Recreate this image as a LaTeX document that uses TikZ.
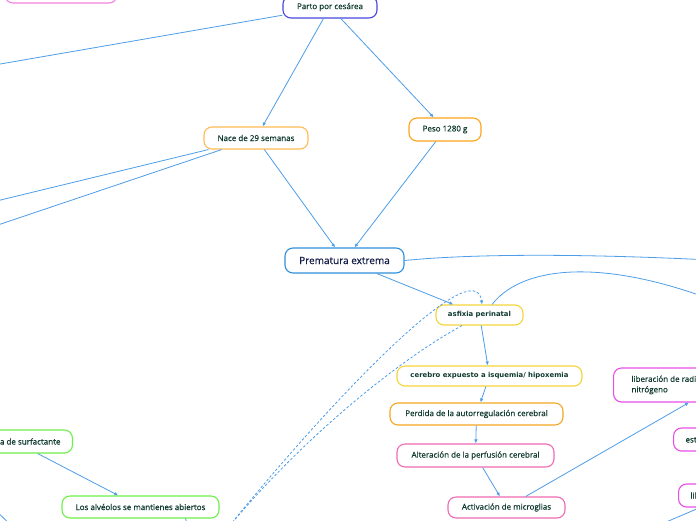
\documentclass[tikz,border=0pt]{standalone}
\usepackage{fontspec}
\setmainfont{Open Sans}
\newfontfamily\boxfont[FakeBold=0.6]{Open Sans}
\newfontfamily\dejavufont{DejaVu Sans}
\usetikzlibrary{arrows.meta}

\definecolor{textgreen}{HTML}{0F3A2F}
\definecolor{premtext}{HTML}{141E48}
\definecolor{linkblue}{HTML}{4D9DE8}
\definecolor{partoblue}{HTML}{4848E0}
\definecolor{toppink}{HTML}{F582DD}
\definecolor{naceorange}{HTML}{FFBB55}
\definecolor{pesoorange}{HTML}{FFA31A}
\definecolor{premblue}{HTML}{2F8FDC}
\definecolor{yellowline}{HTML}{F5D43A}
\definecolor{perdidaorange}{HTML}{F5A623}
\definecolor{pinkline}{HTML}{F06BB4}
\definecolor{magentaline}{HTML}{E84DE8}
\definecolor{greenline}{HTML}{6EF04A}

\begin{document}
\begin{tikzpicture}[
x=1pt, y=-1pt,
box/.style={draw, rounded corners=8pt, line width=1.1pt, fill=white, text=textgreen, font=\boxfont\fontsize{8}{10.5}\selectfont, inner xsep=10pt, inner ysep=0pt, minimum height=22pt},
yellowbox/.style={box, draw=yellowline, font=\dejavufont\bfseries\fontsize{6.9}{8}\selectfont, minimum height=20pt},
link/.style={line width=0.8pt, linkblue},
arrow/.style={link, -{Latex[length=4pt, width=3.5pt]}},
dashlink/.style={link, dash pattern=on 2.5pt off 2pt}
]
\useasboundingbox (0,0) rectangle (696,520);
\clip (0,0) rectangle (696,520);
\fill[white] (0,0) rectangle (696,520);

% nodes
\node[box, draw=toppink, minimum width=112pt, minimum height=24pt] (topnode) at (61,-9) {};
\node[box, draw=partoblue, minimum width=94pt] (parto) at (330,7) {Parto por cesárea};
\node[box, draw=naceorange, minimum width=104pt] (nace) at (256,138) {Nace de 29 semanas};
\node[box, draw=pesoorange, minimum width=72pt, minimum height=23pt] (peso) at (445,129.5) {Peso 1280 g};
\node[box, draw=premblue, text=premtext, font=\boxfont\fontsize{10}{12}\selectfont, minimum width=119pt, minimum height=25pt] (prem) at (344.5,260.5) {Prematura extrema};
\node[yellowbox, minimum width=87pt] (asfixia) at (479.5,315) {asfixia perinatal};
\node[yellowbox, minimum width=185pt] (cerebro) at (489.5,376) {cerebro expuesto a isquemia/ hipoxemia};
\node[box, draw=perdidaorange, minimum width=173pt] (perdida) at (476.5,414) {Perdida de la autorregulación cerebral};
\node[box, draw=pinkline, minimum width=157pt, minimum height=23pt] (alteracion) at (475.5,455.5) {Alteración de la perfusión cerebral};
\node[box, draw=pinkline, minimum width=117pt, minimum height=21pt] (activacion) at (506.5,507.5) {Activación de microglias};
\node[box, draw=magentaline, anchor=west, align=left, inner xsep=18pt, minimum height=34pt] (liberacion) at (613,385) {liberación de radicales libres de oxígeno y\\nitrógeno};
\node[box, draw=magentaline, anchor=west, inner xsep=12pt, minimum height=23pt] (estres) at (673,439.5) {estrés oxidativo};
\node[box, draw=magentaline, anchor=west, inner xsep=12pt, minimum height=23pt] (citocinas) at (678,495.5) {liberación de citocinas};
\node[box, draw=greenline, anchor=east, inner xsep=12pt, minimum height=23pt] (surfactante) at (73,441.5) {Presencia de surfactante};
\node[box, draw=greenline, minimum width=157pt] (alveolos) at (140.5,507) {Los alvéolos se mantienes abiertos};

% free ends outside the frame
\coordinate (outA) at (-20,67.5);
\coordinate (outB) at (-20,205);
\coordinate (outC) at (-20,231);
\coordinate (outD) at (730,261);
\coordinate (outE) at (760,320);
\coordinate (outF) at (218,540);
\coordinate (outG) at (624,540);
\coordinate (outH) at (192,540);
\coordinate (outI) at (-10,505);
\coordinate (outJ) at (16,530);

% connectors
\draw[link] (parto) -- (outA);
\draw[arrow] (parto) -- (nace);
\draw[arrow] (parto) -- (peso);
\draw[link] (nace) -- (outB);
\draw[link] (nace) -- (outC);
\draw[arrow] (nace) -- (prem);
\draw[arrow] (peso) -- (prem);
\draw[link] (prem.east) .. controls (480,253) and (600,254) .. (outD);
\draw[arrow] (prem) -- (asfixia);
\draw[link] ([xshift=12.5pt]asfixia.north) .. controls (525,262) and (620,255) .. (outE);
\draw[dashlink, -{Latex[length=4pt, width=3.5pt]}] (outF) .. controls (330,400) and (475,250) .. ([xshift=2.5pt]asfixia.north);
\draw[dashlink] ([xshift=-17.5pt]asfixia.south) .. controls (390,365) and (290,450) .. (outF);
\draw[arrow] (asfixia) -- (cerebro);
\draw[arrow] (cerebro) -- (perdida);
\draw[arrow] (perdida) -- (alteracion);
\draw[arrow] (alteracion) -- (activacion);
\draw[arrow] (activacion) -- ([xshift=76pt]liberacion.south west);
\draw[arrow] (outG) -- ([xshift=22pt]citocinas.south west);
\draw[arrow] (surfactante) -- (alveolos);
\draw[link] ([xshift=45pt]alveolos.south) -- (outH);
\draw[link] (outI) -- (outJ);
\end{tikzpicture}
\end{document}
